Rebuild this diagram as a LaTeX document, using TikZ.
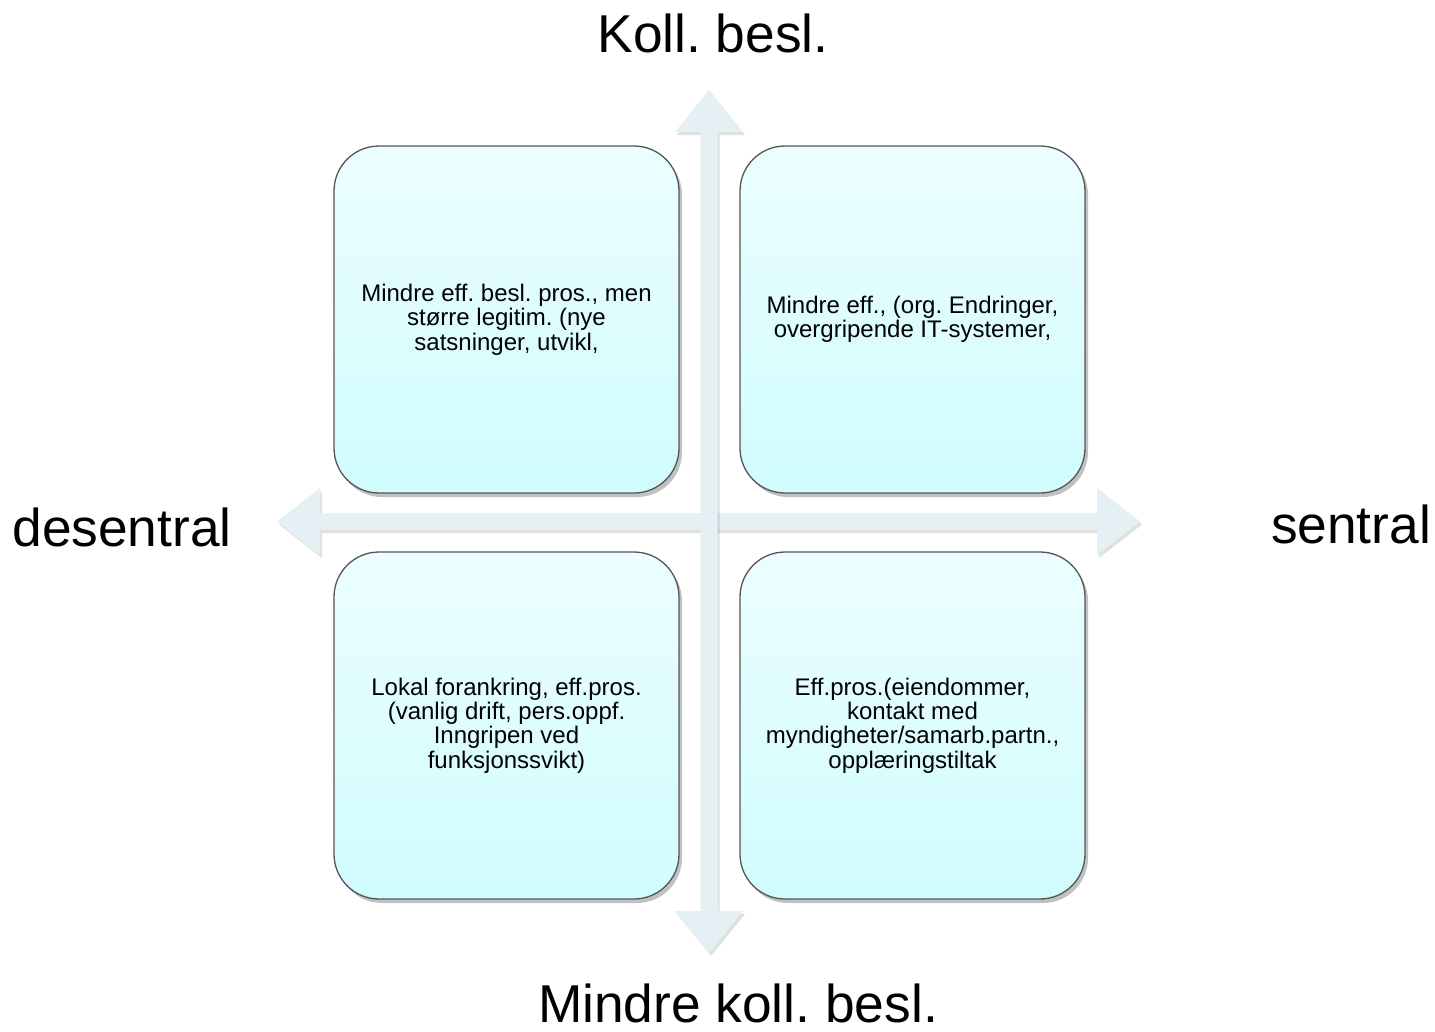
\documentclass[tikz,border=0pt]{standalone}
\usepackage{fontspec}
\setmainfont{Liberation Sans}
\frenchspacing
\usetikzlibrary{shadows}
\definecolor{arrowfill}{RGB}{228,240,243}
\definecolor{boxtop}{RGB}{236,254,255}
\definecolor{boxbot}{RGB}{208,252,254}
\definecolor{boxline}{RGB}{85,85,85}
\tikzset{
  quad/.style={draw=boxline, line width=1.3pt, rounded corners=45pt,
    top color=boxtop, bottom color=boxbot,
    minimum width=345pt, minimum height=347pt, inner sep=0pt,
    align=center, text=black, font=\frenchspacing\fontsize{24}{24.3}\selectfont,
    drop shadow={shadow xshift=3pt, shadow yshift=-4pt, opacity=0.35, fill=black!70}},
  axisarrow/.style={fill=arrowfill,
    drop shadow={shadow xshift=2pt, shadow yshift=-3pt, opacity=0.12, fill=black}},
  axislabel/.style={anchor=base, inner sep=0pt, font=\frenchspacing\fontsize{53.3}{60}\selectfont}
}
\begin{document}
\begin{tikzpicture}[x=1pt, y=-1pt]
\useasboundingbox (0,0) rectangle (1435,1031);
% horizontal double arrow
\path[axisarrow] (277,521.5) -- (320,488) -- (320,513) -- (1097,513) -- (1097,488)
  -- (1140,521.5) -- (1097,555) -- (1097,530) -- (320,530) -- (320,555) -- cycle;
% vertical double arrow
\path[axisarrow] (709,90) -- (743,132) -- (717.5,132) -- (717.5,911) -- (743,911)
  -- (709,953) -- (675,911) -- (700.5,911) -- (700.5,132) -- (675,132) -- cycle;
% quadrants
\node[quad] (tl) at (506.5,319.5) {Mindre eff. besl. pros., men\\ større legitim. (nye\\ satsninger, utvikl,};
\node[quad] (tr) at (912.5,319.5) {Mindre eff., (org. Endringer,\\ overgripende IT-systemer,};
\node[quad] (bl) at (506.5,725.5) {Lokal forankring, eff.pros.\\ (vanlig drift, pers.oppf.\\ Inngripen ved\\ funksjonssvikt)};
\node[quad] (br) at (912.5,725.5) {Eff.pros.(eiendommer,\\ kontakt med\\ myndigheter/samarb.partn.,\\ opplæringstiltak};
% axis labels
\node[axislabel] (ltop) at (713,52) {Koll. besl.};
\node[axislabel] (lbot) at (738,1022) {Mindre koll. besl.};
\node[axislabel] (lleft) at (122,546) {desentral};
\node[axislabel] (lright) at (1351,543) {sentral};
\end{tikzpicture}
\end{document}
